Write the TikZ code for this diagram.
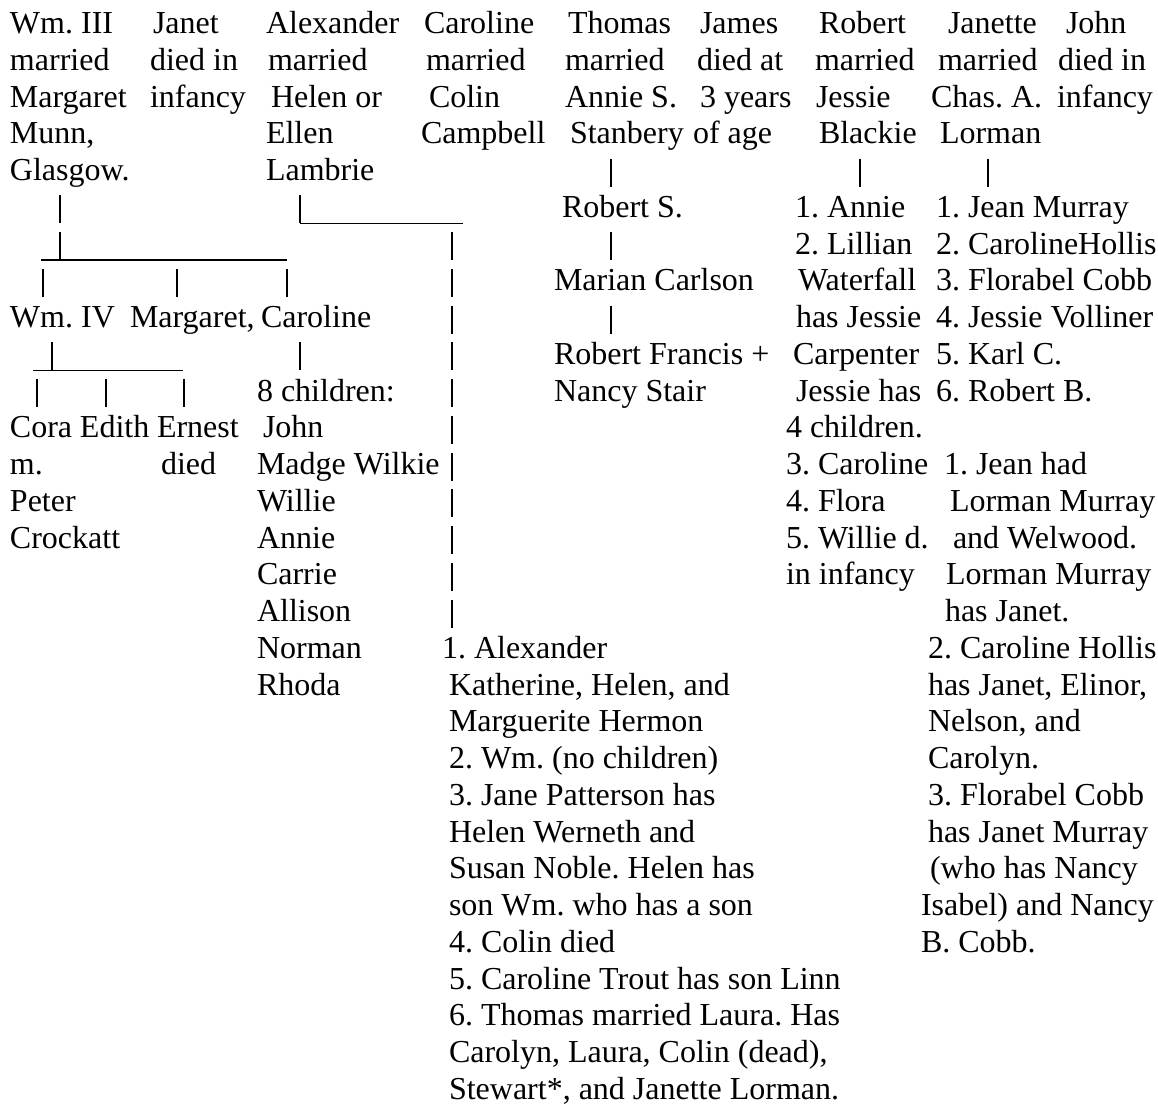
\documentclass[tikz,border=0pt]{standalone}
\usepackage{fontspec}
\setmainfont{Liberation Serif}
\tikzset{
    entry/.style={anchor=base west, inner sep=0pt, outer sep=0pt,
        font=\fontsize{12pt}{14pt}\selectfont\frenchspacing},
    bar/.style={line width=0.55pt}
}
\begin{document}
\begin{tikzpicture}[x=0.375pt, y=-0.375pt]
    \pgfmathsetmacro\pitch{36.75};
    \pgfmathsetmacro\baseone{33.5};
    \useasboundingbox (0, 0) rectangle (1158, 1105);

    % first generation
    \foreach \x/\txt [count=\k from 1] in {10/Wm. III, 10/married,
        10/Margaret, 10/{Munn,}, 10/Glasgow.}
        \node[entry] (wm-\k) at (\x, {\baseone + (\k - 1) * \pitch}) {\txt};
    \foreach \x/\txt [count=\k from 1] in {153/Janet, 150/died in, 150/infancy}
        \node[entry] (janet-\k) at (\x, {\baseone + (\k - 1) * \pitch}) {\txt};
    \foreach \x/\txt [count=\k from 1] in {266/Alexander, 268/married,
        271/Helen or, 266/Ellen, 266/Lambrie}
        \node[entry] (alex-\k) at (\x, {\baseone + (\k - 1) * \pitch}) {\txt};
    \foreach \x/\txt [count=\k from 1] in {424/Caroline, 426/married,
        429/Colin, 421/Campbell}
        \node[entry] (carol-\k) at (\x, {\baseone + (\k - 1) * \pitch}) {\txt};
    \foreach \x/\txt [count=\k from 1] in {568/Thomas, 565/married,
        565/Annie S., 570/Stanbery}
        \node[entry] (thomas-\k) at (\x, {\baseone + (\k - 1) * \pitch}) {\txt};
    \foreach \x/\txt [count=\k from 1] in {700/James, 697/died at,
        700/3 years, 693/of age}
        \node[entry] (james-\k) at (\x, {\baseone + (\k - 1) * \pitch}) {\txt};
    \foreach \x/\txt [count=\k from 1] in {819/Robert, 815/married,
        816/Jessie, 819/Blackie}
        \node[entry] (robert-\k) at (\x, {\baseone + (\k - 1) * \pitch}) {\txt};
    \foreach \x/\txt [count=\k from 1] in {948/Janette, 938/married,
        931/Chas. A., 940/Lorman}
        \node[entry] (janette-\k) at (\x, {\baseone + (\k - 1) * \pitch}) {\txt};
    \foreach \x/\txt [count=\k from 1] in {1066/John, 1058/died in, 1057/infancy}
        \node[entry] (john-\k) at (\x, {\baseone + (\k - 1) * \pitch}) {\txt};

    % children of Wm. III
    \node[entry] (wmiv) at (10, \baseone + 8 * \pitch) {Wm. IV};
    \node[entry] (margaret) at (130, \baseone + 8 * \pitch) {Margaret,};
    \node[entry] (caroline) at (261, \baseone + 8 * \pitch) {Caroline};
    \node[entry] (cora) at (10, \baseone + 11 * \pitch) {Cora};
    \node[entry] (edith) at (80, \baseone + 11 * \pitch) {Edith};
    \node[entry] (ernest) at (157, \baseone + 11 * \pitch) {Ernest};
    \foreach \txt [count=\k from 13] in {m., Peter, Crockatt}
        \node[entry] (cora-\k) at (10, {\baseone + (\k - 1) * \pitch}) {\txt};
    \node[entry] (ernest-died) at (161, \baseone + 12 * \pitch) {died};
    \node[entry] (eight) at (257, \baseone + 10 * \pitch) {8 children:};
    \foreach \x/\txt [count=\k from 12] in {263/John, 257/Madge Wilkie,
        257/Willie, 257/Annie, 257/Carrie, 257/Allison, 257/Norman, 257/Rhoda}
        \node[entry] (eight-\k) at (\x, {\baseone + (\k - 1) * \pitch}) {\txt};

    % children of Alexander
    \foreach \x/\txt [count=\k from 18] in {442/1. Alexander,
        449/{Katherine, Helen, and}, 449/Marguerite Hermon,
        449/2. Wm. (no children), 449/3. Jane Patterson has,
        449/Helen Werneth and, 449/Susan Noble. Helen has,
        449/son Wm. who has a son, 449/4. Colin died,
        449/5. Caroline Trout has son Linn, 449/6. Thomas married Laura. Has,
        449/{Carolyn, Laura, Colin (dead),}, 449/{Stewart*, and Janette Lorman.}}
        \node[entry] (alexkids-\k) at (\x, {\baseone + (\k - 1) * \pitch}) {\txt};

    % line of Thomas
    \node[entry] (roberts) at (562, \baseone + 5 * \pitch) {Robert S.};
    \node[entry] (marian) at (554, \baseone + 7 * \pitch) {Marian Carlson};
    \node[entry] (francis) at (554, \baseone + 9 * \pitch) {Robert Francis +};
    \node[entry] (nancy) at (554, \baseone + 10 * \pitch) {Nancy Stair};

    % children of Robert
    \foreach \x/\txt [count=\k from 6] in {795/1. Annie, 795/2. Lillian,
        798/Waterfall, 796/has Jessie, 793/Carpenter, 796/Jessie has,
        786/4 children., 786/3. Caroline, 786/4. Flora, 786/5. Willie d.,
        786/in infancy}
        \node[entry] (robkids-\k) at (\x, {\baseone + (\k - 1) * \pitch}) {\txt};

    % children of Janette
    \foreach \x/\txt [count=\k from 6] in {936/1. Jean Murray,
        936/2. CarolineHollis, 936/3. Florabel Cobb, 936/4. Jessie Volliner,
        936/5. Karl C., 936/6. Robert B.}
        \node[entry] (jankids-\k) at (\x, {\baseone + (\k - 1) * \pitch}) {\txt};
    \foreach \x/\txt [count=\k from 13] in {944/1. Jean had,
        950/Lorman Murray, 953/and Welwood., 946/Lorman Murray,
        945/has Janet., 928/2. Caroline Hollis, 928/{has Janet, Elinor,},
        928/{Nelson, and}, 928/Carolyn., 928/3. Florabel Cobb,
        928/has Janet Murray, 930/(who has Nancy, 921/Isabel) and Nancy,
        921/B. Cobb.}
        \node[entry] (jangrand-\k) at (\x, {\baseone + (\k - 1) * \pitch}) {\txt};

    % bars and rules
    \foreach \x/\rw in {60/6, 300/6, 60/7, 43/8, 177/8, 287/8, 52/10, 300/10,
        37/11, 106/11, 184/11, 611/5, 860/5, 988/5, 611/7, 611/9}
        \draw[bar] (\x, {\baseone + (\rw - 1) * \pitch - 22})
            -- (\x, {\baseone + (\rw - 1) * \pitch + 6});
    \foreach \rw in {7,...,17}
        \draw[bar] (452, {\baseone + (\rw - 1) * \pitch - 22})
            -- (452, {\baseone + (\rw - 1) * \pitch + 6});
    \draw[bar] (300, \baseone + 5 * \pitch + 6) -- (463, \baseone + 5 * \pitch + 6);
    \draw[bar] (41, \baseone + 6 * \pitch + 6) -- (287, \baseone + 6 * \pitch + 6);
    \draw[bar] (33, \baseone + 9 * \pitch + 6) -- (183, \baseone + 9 * \pitch + 6);
\end{tikzpicture}
\end{document}
